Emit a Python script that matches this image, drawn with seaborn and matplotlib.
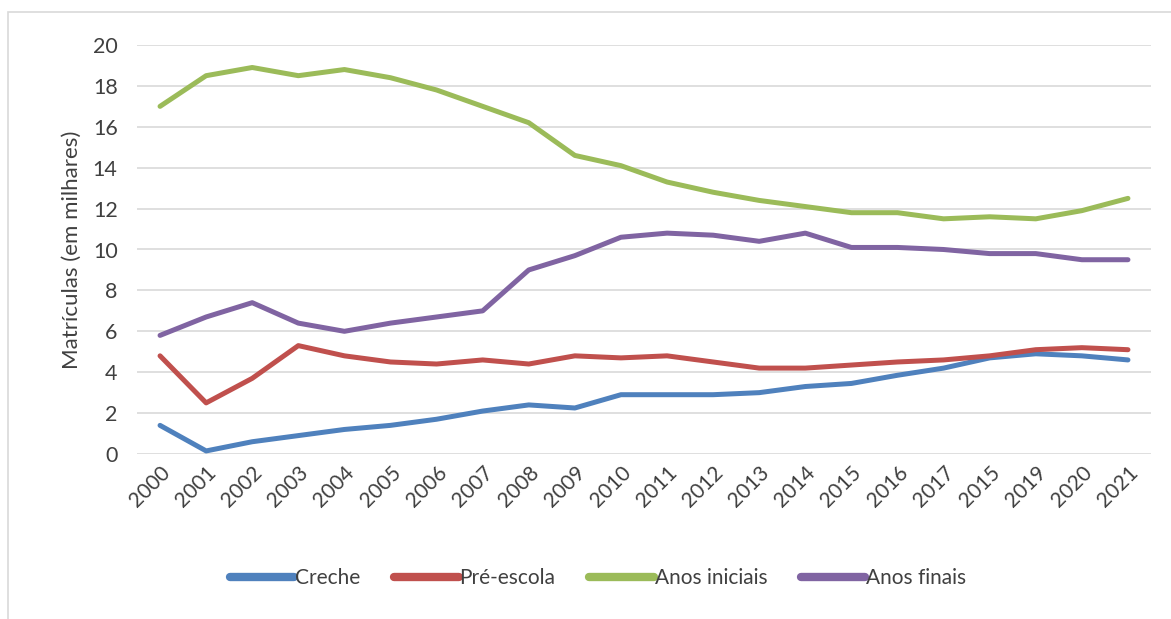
import matplotlib
matplotlib.use("Agg")
import matplotlib.pyplot as plt
import seaborn as sns
import pandas as pd
from matplotlib.patches import Rectangle
from matplotlib.lines import Line2D

years = [2000, 2001, 2002, 2003, 2004, 2005, 2006, 2007, 2008, 2009, 2010,
         2011, 2012, 2013, 2014, 2015, 2016, 2017, 2018, 2019, 2020, 2021]
tick_labels = ["2000", "2001", "2002", "2003", "2004", "2005", "2006", "2007",
               "2008", "2009", "2010", "2011", "2012", "2013", "2014", "2015",
               "2016", "2017", "2015", "2019", "2020", "2021"]

creche = [1.4, 0.15, 0.6, 0.9, 1.2, 1.4, 1.7, 2.1, 2.4, 2.25, 2.9,
          2.9, 2.9, 3.0, 3.3, 3.45, 3.85, 4.2, 4.7, 4.9, 4.8, 4.6]
pre_escola = [4.8, 2.5, 3.7, 5.3, 4.8, 4.5, 4.4, 4.6, 4.4, 4.8, 4.7,
              4.8, 4.5, 4.2, 4.2, 4.35, 4.5, 4.6, 4.8, 5.1, 5.2, 5.1]
anos_iniciais = [17.0, 18.5, 18.9, 18.5, 18.8, 18.4, 17.8, 17.0, 16.2, 14.6, 14.1,
                 13.3, 12.8, 12.4, 12.1, 11.8, 11.8, 11.5, 11.6, 11.5, 11.9, 12.5]
anos_finais = [5.8, 6.7, 7.4, 6.4, 6.0, 6.4, 6.7, 7.0, 9.0, 9.7, 10.6,
               10.8, 10.7, 10.4, 10.8, 10.1, 10.1, 10.0, 9.8, 9.8, 9.5, 9.5]

series_names = ["Creche", "Pré-escola", "Anos iniciais", "Anos finais"]
series_values = [creche, pre_escola, anos_iniciais, anos_finais]
colors = ["#4F81BD", "#C0504D", "#9BBB59", "#8064A2"]

rows = []
for name, vals in zip(series_names, series_values):
    for y, v in zip(years, vals):
        rows.append({"Ano": y, "Valor": v, "Série": name})
df = pd.DataFrame(rows)

sns.set_theme(style="white")
plt.rcParams["font.family"] = ["Lato", "DejaVu Sans"]

fig = plt.figure(figsize=(11.71, 6.19), dpi=100)
ax = fig.add_axes([137/1171, 1 - 454/619, (1151-137)/1171, (454-45)/619])

sns.lineplot(data=df, x="Ano", y="Valor", hue="Série", hue_order=series_names,
             palette=colors, linewidth=3.6, ax=ax, legend=False, zorder=3)

ax.set_xlim(years[0] - 0.5, years[-1] + 0.5)
ax.set_ylim(0, 20)
ax.set_yticks([0, 2, 4, 6, 8, 10, 12, 14, 16, 18, 20])
ax.set_xticks(years)
ax.set_xticklabels(tick_labels, rotation=45, ha="right", rotation_mode="anchor",
                   fontsize=15, color="#404040")
ax.tick_params(axis="y", labelsize=15.5, labelcolor="#404040", length=0, pad=14)
ax.tick_params(axis="x", length=0, pad=6)
ax.yaxis.grid(True, color="#D9D9D9", linewidth=1.2, zorder=0)
ax.set_axisbelow(True)
for s in ax.spines.values():
    s.set_visible(False)
ax.set_xlabel("")
ax.set_ylabel("Matrículas (em milhares)", fontsize=16, color="#404040", labelpad=8)

handles = [Line2D([0], [0], color=c, linewidth=6, solid_capstyle="round") for c in colors]
fig.legend(handles, series_names, loc="center", bbox_to_anchor=(598/1171, 1 - 578/619),
           ncol=4, frameon=False, fontsize=15, handlelength=3.1, handletextpad=0.05,
           columnspacing=1.6, labelcolor="#404040")

fig.patches.append(Rectangle((8/1171, -0.05), 1.1, 1 - 12/619 + 0.05,
                             transform=fig.transFigure, fill=False,
                             edgecolor="#D9D9D9", linewidth=1.2))

fig.savefig("out.png", dpi=100)
